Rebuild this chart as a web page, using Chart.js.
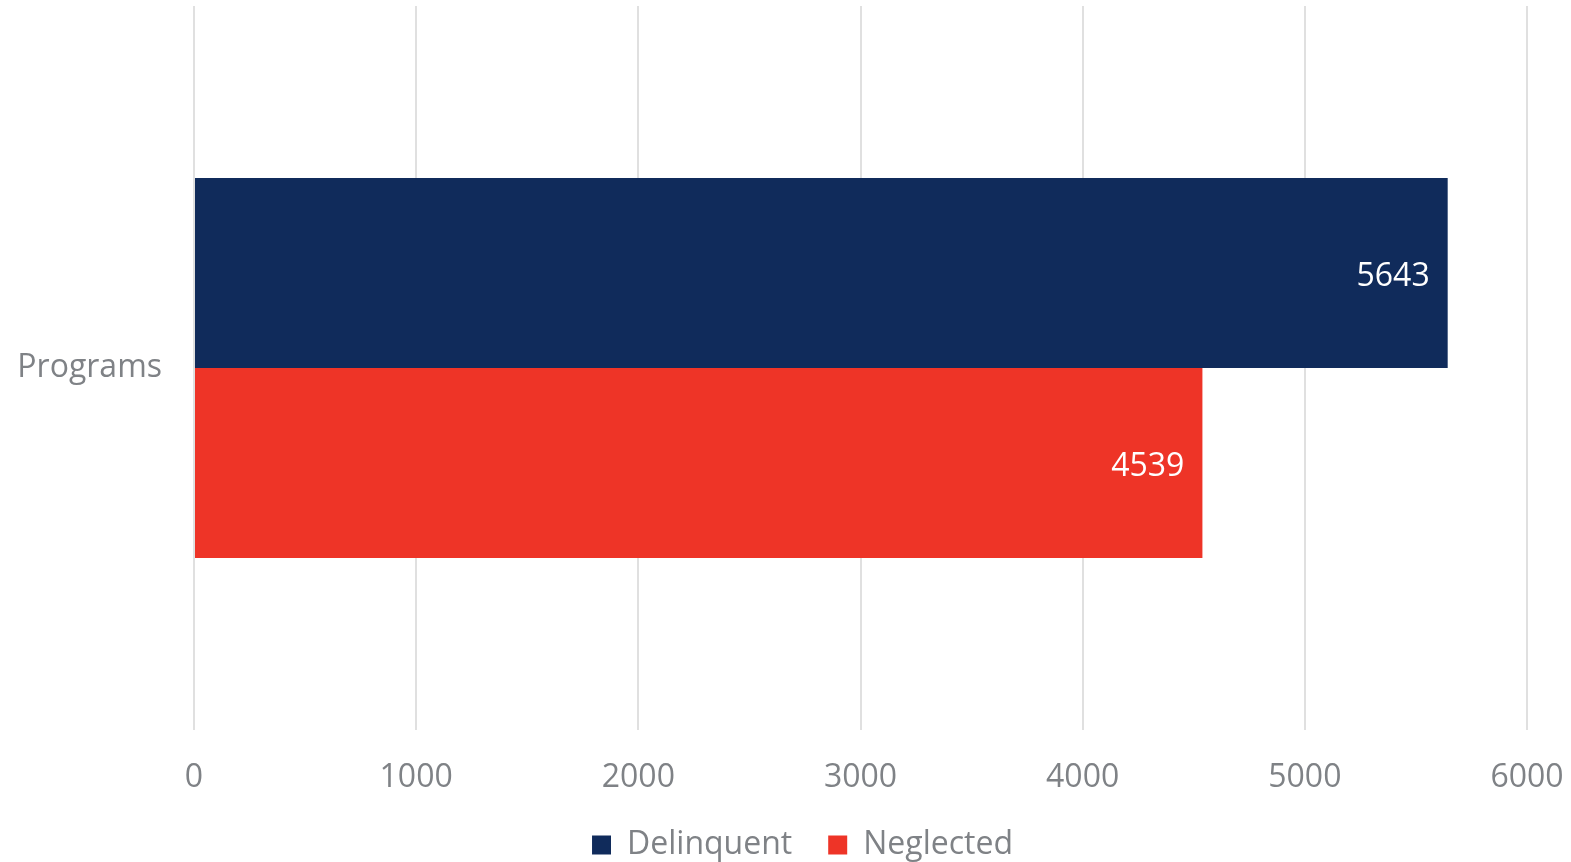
<!DOCTYPE html>
<html>
<head>
    <title>Programs</title>
    <script src="https://cdn.jsdelivr.net/npm/chart.js"></script>
    <style>
        html, body { margin: 0; padding: 0; background: #fff; overflow: hidden; }
        #wrap { width: 1571px; height: 862px; }
    </style>
</head>
<body>
    <div id="wrap"><canvas id="programsChart"></canvas></div>

    <script>
        // datos
        const categories = ['Programs'];
        const delinquent = [5643];
        const neglected = [4539];
        const xTicks = [0, 1000, 2000, 3000, 4000, 5000, 6000];

        const FONT = "'Open Sans', sans-serif";
        const GREY = '#7f8286';

        // etiquetas dentro del final de cada barra
        const barLabels = {
            id: 'barLabels',
            afterDatasetsDraw(chart) {
                const ctx = chart.ctx;
                ctx.save();
                ctx.font = '32px ' + FONT;
                ctx.fillStyle = '#ffffff';
                ctx.textAlign = 'right';
                ctx.textBaseline = 'middle';
                chart.data.datasets.forEach((ds, i) => {
                    chart.getDatasetMeta(i).data.forEach((bar, j) => {
                        ctx.fillText(String(ds.data[j]), bar.x - 18, bar.y + 4);
                    });
                });
                ctx.restore();
            }
        };

        // altura fija de la leyenda y pequeño desplazamiento a la derecha
        const legendTweak = {
            id: 'legendTweak',
            beforeLayout(chart) {
                const lg = chart.legend;
                if (lg && !lg._patched) {
                    const fit = lg.fit;
                    const draw = lg.draw;
                    lg.fit = function () { fit.call(this); this.height = 69; };
                    lg.draw = function () {
                        const c = this.ctx;
                        c.save();
                        c.translate(17, 0);
                        draw.apply(this, arguments);
                        c.restore();
                    };
                    lg._patched = true;
                }
            }
        };

        const ctx = document.getElementById('programsChart').getContext('2d');
        const chart = new Chart(ctx, {
            type: 'bar',
            data: {
                labels: categories,
                datasets: [
                    { label: 'Delinquent', data: delinquent, backgroundColor: '#102b5b' },
                    { label: 'Neglected', data: neglected, backgroundColor: '#ee3427' }
                ]
            },
            options: {
                indexAxis: 'y',
                responsive: true,
                maintainAspectRatio: false,
                animation: false,
                datasets: { bar: { barPercentage: 1, categoryPercentage: 0.525 } },
                layout: { padding: { top: 6, left: 0, right: 0, bottom: 0 } },
                scales: {
                    x: {
                        min: xTicks[0],
                        max: xTicks[xTicks.length - 1],
                        afterBuildTicks(axis) { axis.ticks = xTicks.map(v => ({ value: v })); },
                        afterFit(scale) {
                            scale.height = 63;
                            scale.paddingLeft = 0;
                            scale.paddingRight = 44;
                        },
                        grid: { color: '#e0e0e0', lineWidth: 2, drawTicks: false },
                        border: { display: false },
                        ticks: {
                            color: GREY,
                            font: { family: FONT, size: 32 },
                            padding: 29,
                            callback: v => String(v)
                        }
                    },
                    y: {
                        afterFit(scale) {
                            scale.width = 194;
                            scale.paddingTop = 0;
                            scale.paddingBottom = 0;
                        },
                        grid: { display: false },
                        border: { display: false },
                        ticks: { color: GREY, font: { family: FONT, size: 32 }, padding: 24 }
                    }
                },
                plugins: {
                    legend: {
                        position: 'bottom',
                        labels: {
                            color: GREY,
                            font: { family: FONT, size: 32 },
                            boxWidth: 19,
                            boxHeight: 19,
                            padding: 36
                        }
                    },
                    tooltip: { enabled: false }
                }
            },
            plugins: [barLabels, legendTweak]
        });
    </script>
</body>
</html>
